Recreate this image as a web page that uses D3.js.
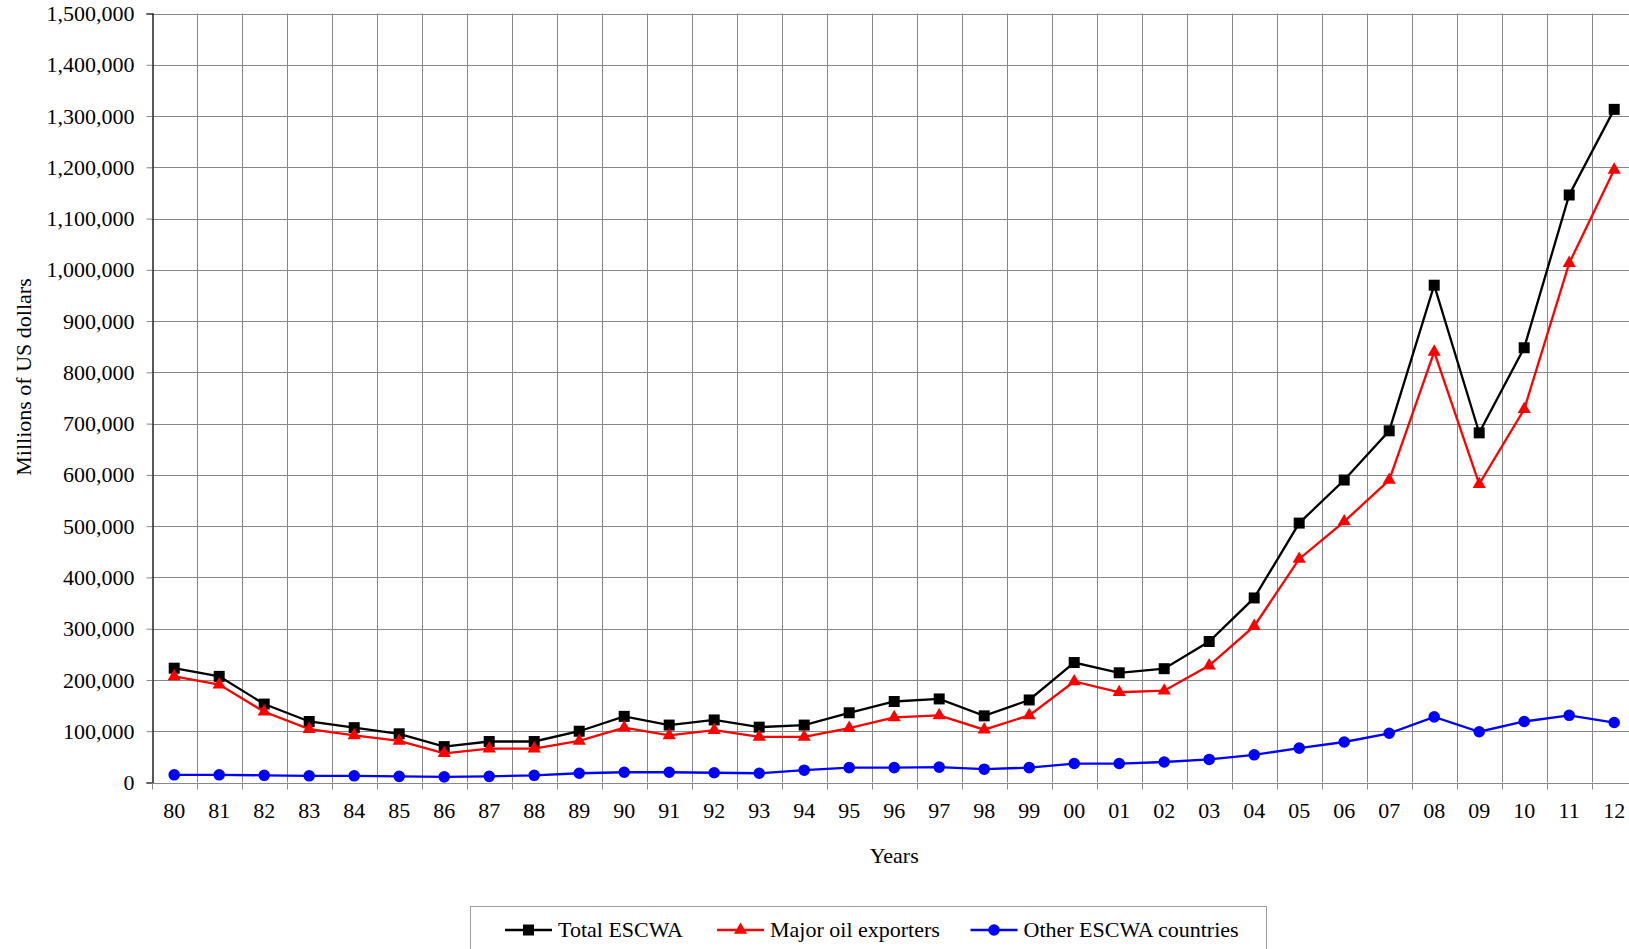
<!DOCTYPE html>
<html>
<head>
<meta charset="utf-8">
<script src="https://cdn.jsdelivr.net/npm/d3@7"></script>
<style>
html,body{margin:0;padding:0;background:#fff;overflow:hidden;}
svg{display:block;}
text{font-family:"Liberation Serif","Times New Roman",serif;fill:#000;}
</style>
</head>
<body>
<svg id="chart" width="1629" height="949"></svg>
<script>
const years = ["80","81","82","83","84","85","86","87","88","89","90","91","92","93","94","95","96","97","98","99","00","01","02","03","04","05","06","07","08","09","10","11","12"];
const totalESCWA = [223000,207000,153000,119000,107000,95000,70000,80000,80000,100000,129000,112000,122000,108000,112000,136000,158000,163000,130000,161000,234000,214000,222000,275000,360000,506000,590000,686000,970000,682000,848000,1146000,1313000];
const majorOil = [207000,191000,138000,104000,92000,81000,57000,66000,66000,81000,107000,92000,102000,89000,89000,106000,127000,131000,103000,131000,197000,176000,179000,228000,305000,436000,509000,590000,840000,582000,728000,1013000,1195000];
const otherESCWA = [15000,15000,14000,13000,13000,12000,11000,12000,14000,18000,20000,20000,19000,18000,24000,29000,29000,30000,26000,29000,37000,37000,40000,45000,54000,67000,79000,96000,128000,99000,119000,131000,117000];
const yTicks = [0,100000,200000,300000,400000,500000,600000,700000,800000,900000,1000000,1100000,1200000,1300000,1400000,1500000];
const seriesNames = ["Total ESCWA","Major oil exporters","Other ESCWA countries"];
const seriesColors = ["#000000","#ff0000","#0000ff"];
const seriesMarkers = ["square","triangle","circle"];
const xTitle = "Years";
const yTitle = "Millions of US dollars";

(function(){
const svg = d3.select("#chart");
const pL = 151.7, pR = 1636.7, pT = 13.5, pB = 782.5;
const FS = 22;
const x = d3.scaleBand().domain(years).range([pL, pR]).padding(0);
const y = d3.scaleLinear().domain([0, 1500000]).range([pB, pT]);
const gridColor = "#888888";

// horizontal gridlines
svg.append("g").selectAll("line").data(yTicks).join("line")
  .attr("x1", pL).attr("x2", pR)
  .attr("y1", d => Math.round(y(d)) + 0.5).attr("y2", d => Math.round(y(d)) + 0.5)
  .attr("stroke", gridColor).attr("stroke-width", 1);

// vertical gridlines at band boundaries
const bounds = years.map(d => x(d)).slice(1).concat([pR]);
svg.append("g").selectAll("line").data(bounds).join("line")
  .attr("x1", d => Math.round(d) + 0.5).attr("x2", d => Math.round(d) + 0.5)
  .attr("y1", pT).attr("y2", pB)
  .attr("stroke", gridColor).attr("stroke-width", 1);

// y axis
const yAxis = d3.axisLeft(y).tickValues(yTicks).tickFormat(d3.format(",")).tickSize(6).tickPadding(12);
const gy = svg.append("g").attr("transform", `translate(${Math.round(pL)+0.5},0)`).call(yAxis);
gy.select(".domain").attr("stroke", "#000").attr("stroke-width", 1.3);
gy.selectAll(".tick line").attr("stroke", gridColor);
gy.selectAll(".tick text").attr("font-size", FS).attr("font-family", "Liberation Serif, serif").attr("fill", "#000");

// x axis: ticks at band boundaries, labels at centers
const gx = svg.append("g").attr("transform", `translate(0,${Math.round(pB)+0.5})`);
gx.selectAll("line.tk").data([pL].concat(bounds)).join("line").attr("class","tk")
  .attr("x1", d => Math.round(d) + 0.5).attr("x2", d => Math.round(d) + 0.5)
  .attr("y1", 0).attr("y2", 6).attr("stroke", gridColor);
gx.append("line").attr("x1", pL).attr("x2", pR).attr("stroke", gridColor);
gx.selectAll("text").data(years).join("text")
  .attr("x", d => x(d) + x.bandwidth()/2).attr("y", 34)
  .attr("text-anchor", "middle").attr("font-size", FS).text(d => d);

// axis titles
svg.append("text").attr("x", (pL+pR)/2).attr("y", 863).attr("text-anchor","middle").attr("font-size", FS).text(xTitle);
svg.append("text").attr("transform", "translate(31,377) rotate(-90)").attr("text-anchor","middle").attr("font-size", FS).text(yTitle);

// series
const seriesData = [totalESCWA, majorOil, otherESCWA];
const symbolFor = m => m === "square" ? d3.symbol(d3.symbolSquare, 121) : (m === "triangle" ? d3.symbol(d3.symbolTriangle, 75) : d3.symbol(d3.symbolCircle, 105));
const line = d3.line().x((d,i) => x(years[i]) + x.bandwidth()/2).y(d => y(d));
seriesData.forEach((vals, si) => {
  const g = svg.append("g");
  g.append("path").datum(vals).attr("d", line).attr("fill","none")
    .attr("stroke", seriesColors[si]).attr("stroke-width", 2.3).attr("stroke-linejoin","miter");
  g.selectAll("path.mk").data(vals).join("path").attr("class","mk")
    .attr("transform", (d,i) => `translate(${x(years[i]) + x.bandwidth()/2},${y(d)})`)
    .attr("d", symbolFor(seriesMarkers[si])()).attr("fill", seriesColors[si]);
});

// legend
const lg = svg.append("g");
lg.append("rect").attr("x", 470.5).attr("y", 906.5).attr("width", 796).attr("height", 80)
  .attr("fill","#fff").attr("stroke","#a0a0a0").attr("stroke-width",1);
const legendX = [505, 717, 970.5];
seriesNames.forEach((name, si) => {
  const lx = legendX[si];
  lg.append("line").attr("x1", lx).attr("x2", lx+47).attr("y1", 930).attr("y2", 930)
    .attr("stroke", seriesColors[si]).attr("stroke-width", 2.3);
  lg.append("path").attr("transform", `translate(${lx+23.5},930)`)
    .attr("d", symbolFor(seriesMarkers[si])()).attr("fill", seriesColors[si]);
  lg.append("text").attr("x", lx+53).attr("y", 937).attr("font-size", FS).text(name);
});
})();
</script>
</body>
</html>
